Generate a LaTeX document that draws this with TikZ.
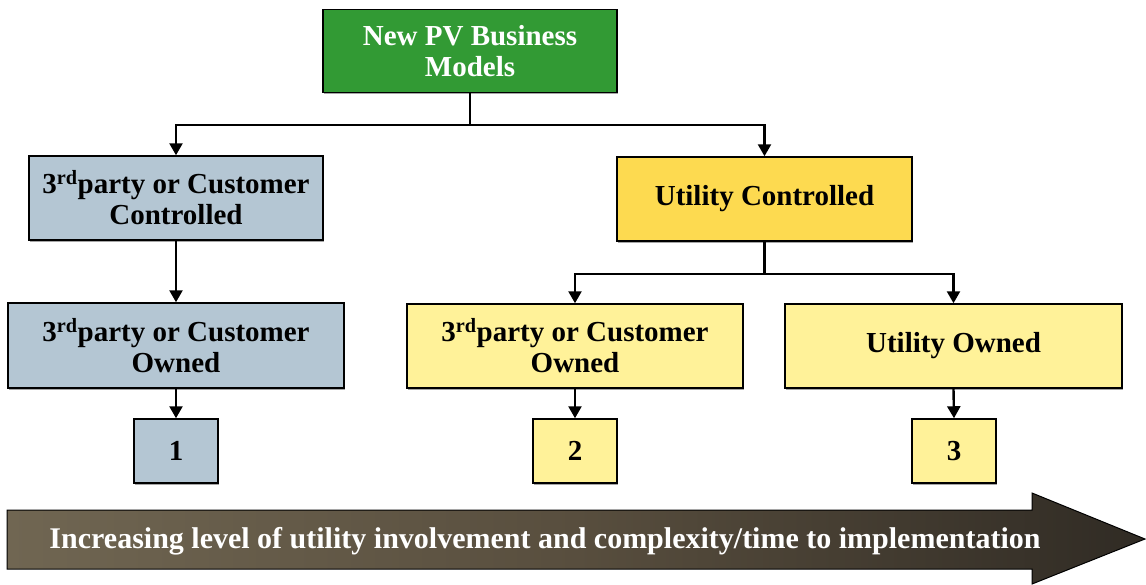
\documentclass[tikz,border=0pt]{standalone}
\usepackage{fontspec}
\setmainfont{Liberation Serif}
\usetikzlibrary{arrows.meta,shadows}
\definecolor{pvgreen}{RGB}{50,154,52}
\definecolor{bluegray}{RGB}{180,198,211}
\definecolor{gold}{RGB}{253,218,80}
\definecolor{paleyellow}{RGB}{255,242,153}
\definecolor{arrowL}{RGB}{112,102,82}
\definecolor{arrowM}{RGB}{88,78,62}
\definecolor{arrowR}{RGB}{48,43,36}
\begin{document}
\begin{tikzpicture}[x=1pt,y=-1pt,
  box/.style={draw=black, line width=1.5pt, font=\fontsize{29}{31}\selectfont\bfseries,
    align=center, inner sep=0pt, minimum height=84pt,
    drop shadow={shadow xshift=1pt, shadow yshift=-1.5pt, opacity=0.35, fill=black}},
  numbox/.style={box, minimum width=84pt, minimum height=64pt},
  link/.style={line width=2.4pt},
  conn/.style={line width=2.4pt, -{Triangle[length=12pt,width=13pt]}}]
\useasboundingbox (0,0) rectangle (1146,584);

\node[box, fill=pvgreen, text=white, minimum width=294pt, minimum height=83pt] (top) at (470,51) {New PV Business\\Models};
\node[box, fill=bluegray, minimum width=294pt] (lc) at (176,198) {3\textsuperscript{rd}party or Customer\\Controlled};
\node[box, fill=bluegray, minimum width=336pt, minimum height=85pt] (lo) at (176,345.5) {3\textsuperscript{rd}party or Customer\\Owned};
\node[numbox, fill=bluegray] (n1) at (176,451) {1};
\node[box, fill=gold, minimum width=295pt] (uc) at (764.5,199) {Utility Controlled};
\node[box, fill=paleyellow, minimum width=336pt] (mo) at (575,346) {3\textsuperscript{rd}party or Customer\\Owned};
\node[box, fill=paleyellow, minimum width=337pt] (uo) at (953.5,346) {Utility Owned};
\node[numbox, fill=paleyellow] (n2) at (575,451) {2};
\node[numbox, fill=paleyellow] (n3) at (954,451) {3};

\draw[link] (top.south) -- ++(0,32) coordinate (j1);
\draw[conn] (j1) -| (lc.north);
\draw[conn] (j1) -| (uc.north);
\draw[conn] (lc.south) -- (lo.north);
\draw[conn] (lo.south) -- (n1.north);
\draw[link] (uc.south) -- ++(0,32) coordinate (j2);
\draw[conn] (j2) -| (mo.north);
\draw[conn] (j2) -| (uo.north);
\draw[conn] (mo.south) -- (n2.north);
\draw[conn] (uo.south) -- (n3.north);

\shade[left color=arrowL, right color=arrowR, middle color=arrowM, draw=black, line width=1pt]
  (7,510) -- (1032,510) -- (1032,493) -- (1145,539) -- (1032,584) -- (1032,569) -- (7,569) -- cycle;
\node[font=\fontsize{30}{32}\selectfont\bfseries, text=white, inner sep=0pt] (arrowtext) at (545,541)
  {Increasing level of utility involvement and complexity/time to implementation};
\end{tikzpicture}
\end{document}
